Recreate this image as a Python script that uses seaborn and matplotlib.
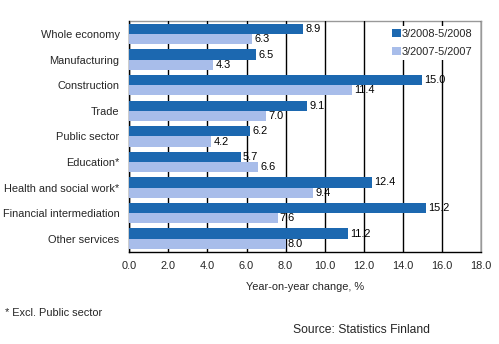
import matplotlib
matplotlib.use("Agg")
import matplotlib.pyplot as plt
import pandas as pd
import seaborn as sns
from matplotlib.patches import Patch

categories = [
    "Whole economy",
    "Manufacturing",
    "Construction",
    "Trade",
    "Public sector",
    "Education*",
    "Health and social work*",
    "Financial intermediation",
    "Other services",
]
series_names = ["3/2008-5/2008", "3/2007-5/2007"]
values_2008 = [8.9, 6.5, 15.0, 9.1, 6.2, 5.7, 12.4, 15.2, 11.2]
values_2007 = [6.3, 4.3, 11.4, 7.0, 4.2, 6.6, 9.4, 7.6, 8.0]
x_ticks = [0, 2, 4, 6, 8, 10, 12, 14, 16, 18]

df = pd.DataFrame({
    "category": categories * 2,
    "period": [series_names[0]] * len(categories) + [series_names[1]] * len(categories),
    "value": values_2008 + values_2007,
})

sns.set_theme(style="white")
plt.rcParams["font.family"] = ["Liberation Sans", "DejaVu Sans"]

FS = 7.9
W, H = 499, 344
fig = plt.figure(figsize=(W / 100, H / 100), dpi=100)
ax = fig.add_axes([129.3 / W, 1 - 251.5 / H, (481 - 129.3) / W, (251.5 - 21.3) / H])

palette = {series_names[0]: "#1c68b0", series_names[1]: "#a8bdea"}
sns.barplot(data=df, y="category", x="value", hue="period", order=categories,
            hue_order=series_names, palette=palette, orient="h", width=0.8,
            saturation=1, legend=False, ax=ax, zorder=3, edgecolor="none")

for cont in ax.containers:
    ax.bar_label(cont, fmt="%.1f", padding=1.5, fontsize=FS, zorder=2, color="black")

ax.set_xlim(0, 18)
ax.set_xticks(x_ticks)
ax.set_xticklabels([f"{t:.1f}" for t in x_ticks], fontsize=FS)
ax.tick_params(axis="x", direction="out", length=3, width=1, color="black", pad=4)
ax.tick_params(axis="y", length=0, pad=7, labelsize=FS)
ax.set_ylabel("")
ax.set_xlabel("Year-on-year change, %", fontsize=FS, labelpad=8)

ax.set_axisbelow(False)
ax.xaxis.grid(True, color="black", linewidth=1)
ax.yaxis.grid(False)

for side in ("left", "bottom"):
    ax.spines[side].set_color("black")
    ax.spines[side].set_linewidth(1)
for side in ("top", "right"):
    ax.spines[side].set_color("#999999")
    ax.spines[side].set_linewidth(1)

handles = [Patch(facecolor=palette[n], edgecolor="none", label=n) for n in series_names]
leg = ax.legend(handles=handles, loc="upper left",
                bbox_to_anchor=(389 / W, 1 - 26 / H), bbox_transform=fig.transFigure,
                frameon=True, fontsize=FS, handlelength=0.75, handleheight=0.75,
                handletextpad=0.1, labelspacing=0.7, borderpad=0.3, borderaxespad=0)
leg.get_frame().set_facecolor("white")
leg.get_frame().set_edgecolor("none")
leg.get_frame().set_alpha(1)
leg.set_zorder(5)

fig.text(5 / W, 1 - 313 / H, "* Excl. Public sector", fontsize=FS, va="center", ha="left")
fig.text(293 / W, 1 - 330 / H, "Source: Statistics Finland", fontsize=8.7, va="center", ha="left")

fig.savefig("out.png", dpi=100, facecolor="white")
